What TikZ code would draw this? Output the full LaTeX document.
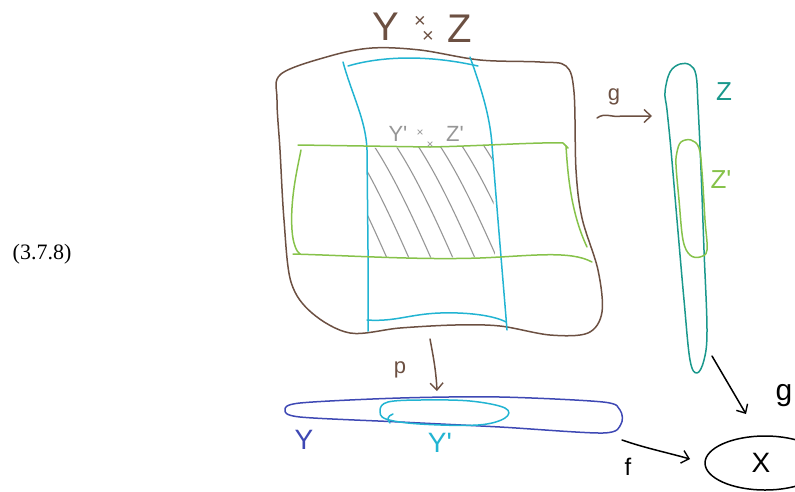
\documentclass[tikz,border=0pt]{standalone}
\usepackage{fontspec}
\newfontfamily\hand{Liberation Sans}
\newfontfamily\eqfont{Liberation Serif}
\usetikzlibrary{arrows.meta}
\definecolor{cbrown}{RGB}{108,80,66}
\definecolor{ccyan}{RGB}{34,180,210}
\definecolor{cgreen}{RGB}{134,194,74}
\definecolor{cteal}{RGB}{26,152,140}
\definecolor{cblue}{RGB}{62,72,180}
\definecolor{cgray}{RGB}{150,150,150}
\tikzset{
  stroke/.style={line width=1.5pt, line cap=round, line join=round},
  arr/.style={stroke, -{Straight Barb[length=7pt,width=13pt,line width=1.4pt]}},
  lbl/.style={inner sep=0pt, font=\hand},
}
\begin{document}
\begin{tikzpicture}[x=1pt,y=-1pt]
\useasboundingbox (0,0) rectangle (795,491);

% equation number
\node[inner sep=0pt, font=\eqfont\fontsize{22}{22}\selectfont] (eqn) at (42,254) {(3.7.8)};

% hatching
\begin{scope}
\clip (368,148) -- (492,146) -- (495,257) -- (368,258) -- cycle;
\foreach \s in {282,304,...,520}{
  \draw[stroke, cgray, line width=1.1pt] (\s,140) .. controls (\s+22,172) and (\s+42,215) .. (\s+64,265);
}
\end{scope}

% brown blob Y x Z
\draw[stroke, cbrown] plot[smooth cycle, tension=0.55] coordinates {
  (281,74) (330,56) (372,48) (420,50) (480,60) (540,62) (566,66) (574,92)
  (576,170) (582,218) (598,270) (602,312) (588,333) (550,335) (500,326)
  (455,325) (400,328) (350,333) (312,313) (291,282) (284,220) (280,150) (277,100)};

% cyan vertical strip
\draw[stroke, ccyan] (343,62) .. controls (352,95) and (366,120) .. (367,150) -- (368,250) -- (368,331);
\draw[stroke, ccyan] (470,57) .. controls (480,85) and (490,115) .. (492,145) .. controls (497,210) and (503,280) .. (507,330);
\draw[stroke, ccyan] (348,66) .. controls (375,58) and (420,53) .. (478,66);
\draw[stroke, ccyan] (367,320) .. controls (395,322) and (410,314) .. (440,313) .. controls (470,312) and (495,316) .. (506,322);

% green horizontal strip
\draw[stroke, cgreen] (298,145) -- (430,147) .. controls (480,146) and (540,142) .. (563,143) -- (568,148);
\draw[stroke, cgreen] (301,150) .. controls (297,170) and (290,200) .. (292,230) .. controls (293,245) and (297,252) .. (300,254);
\draw[stroke, cgreen] (293,254) .. controls (360,256) and (420,260) .. (480,258) .. controls (530,256) and (570,250) .. (592,262);
\draw[stroke, cgreen] (566,146) .. controls (568,180) and (572,215) .. (587,247);

% labels on product
\node[lbl, cbrown, font=\hand\fontsize{40}{40}\selectfont] (lY) at (386,27) {Y};
\node[lbl, cbrown, font=\hand\fontsize{20}{20}\selectfont] (lx1) at (420,22) {×};
\node[lbl, cbrown, font=\hand\fontsize{20}{20}\selectfont] (lx2) at (428,37) {×};
\node[lbl, cbrown, font=\hand\fontsize{40}{40}\selectfont] (lZ) at (460,29) {Z};

\node[lbl, cgray, font=\hand\fontsize{22}{22}\selectfont] (sY) at (398,134) {Y'};
\node[lbl, cgray, font=\hand\fontsize{12}{12}\selectfont] (sx1) at (420,133) {×};
\node[lbl, cgray, font=\hand\fontsize{12}{12}\selectfont] (sx2) at (430,145) {×};
\node[lbl, cgray, font=\hand\fontsize{22}{22}\selectfont] (sZ) at (455,134) {Z'};

% Z shape
\draw[stroke, cteal] plot[smooth cycle, tension=0.6] coordinates {
  (665,92) (670,72) (680,64) (690,65) (696,75) (698,105) (701,170) (704,250)
  (707,330) (704,360) (697,373) (690,360) (684,300) (677,220) (671,150) (667,110)};
\node[lbl, cteal, font=\hand\fontsize{26}{26}\selectfont] (lZr) at (724,92) {Z};

% Z' shape
\draw[stroke, cgreen] plot[smooth cycle, tension=0.6] coordinates {
  (677,152) (681,142) (691,140) (699,148) (702,172) (705,220) (707,250)
  (700,257) (690,255) (683,240) (679,200) (676,165)};
\node[lbl, cgreen, font=\hand\fontsize{26}{26}\selectfont] (lZp) at (721,180) {Z'};

% arrow g (top)
\coordinate (gs) at (597,118);
\coordinate (ge) at (652,116);
\draw[arr, cbrown] (gs) .. controls (605,112) and (612,118) .. (622,116) -- (ge);
\node[lbl, cbrown, font=\hand\fontsize{22}{22}\selectfont] (lg) at (614,97) {g};

% arrow p
\coordinate (ps) at (430,339);
\coordinate (pe) at (437,391);
\draw[arr, cbrown] (ps) .. controls (433,355) and (436,370) .. (pe);
\node[lbl, cbrown, font=\hand\fontsize{22}{22}\selectfont] (lp) at (400,370) {p};

% Y shape
\draw[stroke, cblue] plot[smooth cycle, tension=0.5] coordinates {
  (285,410) (300,403) (400,398) (500,397) (603,402) (620,410) (621,424)
  (603,433) (500,427) (400,422) (300,417)};
\node[lbl, cblue, font=\hand\fontsize{28}{28}\selectfont] (lYb) at (304,440) {Y};

% Y' shape
\draw[stroke, ccyan] plot[smooth cycle, tension=0.6] coordinates {
  (380,410) (388,402) (420,400) (470,401) (505,408) (505,418) (478,425) (420,424) (386,419)};
\draw[stroke, ccyan] (393,414) .. controls (387,416) and (387,420) .. (390,423);
\node[lbl, ccyan, font=\hand\fontsize{28}{28}\selectfont] (lYp) at (440,443) {Y'};

% X
\draw[stroke, black] (765,463) ellipse[x radius=60, y radius=27];
\node[lbl, black, font=\hand\fontsize{28}{28}\selectfont] (lX) at (761,463) {X};

% arrow f
\coordinate (fs) at (622,440);
\coordinate (fe) at (690,459);
\draw[arr, black] (fs) .. controls (645,448) and (665,452) .. (fe);
\node[lbl, black, font=\hand\fontsize{24}{24}\selectfont] (lf) at (628,467) {f};

% arrow from Z down to X
\coordinate (zs) at (712,356);
\coordinate (ze) at (746,414);
\draw[arr, black] (zs) -- (ze);
\node[lbl, black, font=\hand\fontsize{30}{30}\selectfont] (lg2) at (784,396) {g};
\end{tikzpicture}
\end{document}
